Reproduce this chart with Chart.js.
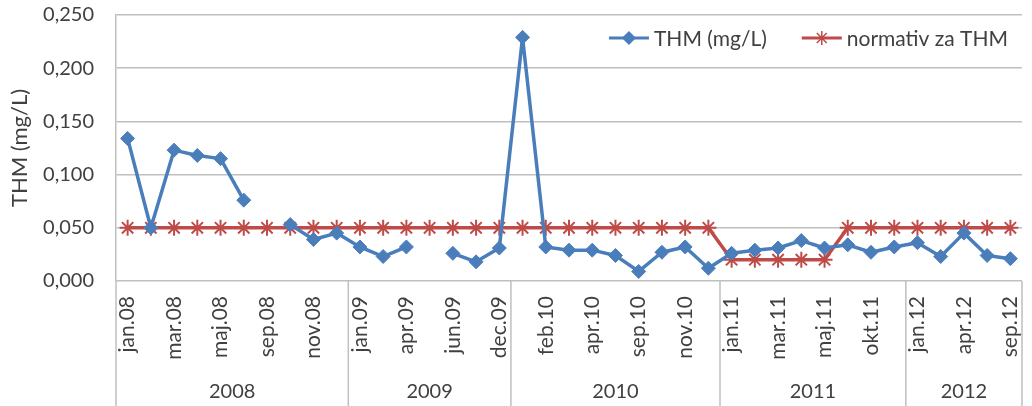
<!DOCTYPE html>
<html>
<head>
<meta charset="utf-8">
<script src="https://cdn.jsdelivr.net/npm/chart.js@4.4.1/dist/chart.umd.min.js"></script>
<style>
html, body { margin: 0; padding: 0; background: #fff; }
</style>
</head>
<body>
<canvas id="graficoThm" width="1032" height="406"></canvas>
<script>
// mjeseci (kategorije), po godinama
const meseci = [
  "jan.08", "feb.08", "mar.08", "apr.08", "maj.08", "jun.08", "sep.08", "okt.08", "nov.08", "dec.08",
  "jan.09", "feb.09", "apr.09", "maj.09", "jun.09", "sep.09", "dec.09",
  "jan.10", "feb.10", "mar.10", "apr.10", "jun.10", "sep.10", "okt.10", "nov.10", "dec.10",
  "jan.11", "feb.11", "mar.11", "apr.11", "maj.11", "jun.11", "okt.11", "nov.11",
  "jan.12", "feb.12", "apr.12", "jun.12", "sep.12"
];
const thm = [
  0.134, 0.050, 0.123, 0.118, 0.115, 0.076, null, 0.053, 0.039, 0.045,
  0.032, 0.023, 0.032, null, 0.026, 0.018, 0.031,
  0.229, 0.032, 0.029, 0.029, 0.024, 0.009, 0.027, 0.032, 0.012,
  0.026, 0.029, 0.031, 0.038, 0.031, 0.034, 0.027, 0.032,
  0.036, 0.023, 0.045, 0.024, 0.021
];
const normativ = [
  0.05, 0.05, 0.05, 0.05, 0.05, 0.05, 0.05, 0.05, 0.05, 0.05,
  0.05, 0.05, 0.05, 0.05, 0.05, 0.05, 0.05,
  0.05, 0.05, 0.05, 0.05, 0.05, 0.05, 0.05, 0.05, 0.05,
  0.02, 0.02, 0.02, 0.02, 0.02, 0.05, 0.05, 0.05,
  0.05, 0.05, 0.05, 0.05, 0.05
];
const nazivi = ["THM (mg/L)", "normativ za THM"];
const naslovY = "THM (mg/L)";

const plava = "#4A7EBB";
const crvena = "#BE4B48";
const siva = "#BFBFBF";
const tekst = "#404040";
const font = "Lato";

const godina = (i) => "20" + meseci[i].slice(-2);

// donji red s godinama + okomite crte
const osGodine = {
  id: "osGodine",
  afterDraw(chart) {
    const ctx = chart.ctx;
    const x = chart.scales.x;
    const a = chart.chartArea;
    const pola = (x.getPixelForValue(1) - x.getPixelForValue(0)) / 2;
    ctx.save();
    ctx.strokeStyle = siva;
    ctx.lineWidth = 1.5;
    ctx.fillStyle = tekst;
    ctx.font = "20px " + font;
    ctx.textAlign = "center";
    ctx.textBaseline = "middle";
    let start = 0;
    for (let i = 1; i <= meseci.length; i++) {
      if (i === meseci.length || godina(i) !== godina(start)) {
        const x0 = x.getPixelForValue(start) - pola;
        const x1 = x.getPixelForValue(i - 1) + pola;
        ctx.beginPath();
        ctx.moveTo(x0, a.bottom);
        ctx.lineTo(x0, chart.height);
        if (i === meseci.length) {
          ctx.moveTo(x1, a.bottom);
          ctx.lineTo(x1, chart.height);
        }
        ctx.stroke();
        ctx.fillText(godina(start), (x0 + x1) / 2, 392);
        start = i;
      }
    }
    ctx.restore();
  }
};

// legenda gore desno, unutar grafa
const legenda = {
  id: "legenda",
  afterDraw(chart) {
    const ctx = chart.ctx;
    const a = chart.chartArea;
    const y = 38;
    ctx.save();
    ctx.font = "21px " + font;
    ctx.textBaseline = "middle";
    ctx.fillStyle = tekst;
    const w1 = ctx.measureText(nazivi[0]).width;
    const w2 = ctx.measureText(nazivi[1]).width;
    const duz = 40;
    let px = a.right - 14 - (duz + 5 + w1 + 35 + duz + 5 + w2);
    const stavke = [
      { boja: plava, stil: "rectRot", r: 6, w: w1, t: nazivi[0] },
      { boja: crvena, stil: "star", r: 7, w: w2, t: nazivi[1] }
    ];
    stavke.forEach((s) => {
      ctx.strokeStyle = s.boja;
      ctx.lineWidth = 3;
      ctx.beginPath();
      ctx.moveTo(px, y);
      ctx.lineTo(px + duz, y);
      ctx.stroke();
      ctx.fillStyle = s.boja;
      ctx.lineWidth = 1.5;
      Chart.helpers.drawPoint(ctx, { pointStyle: s.stil, radius: s.r, rotation: 0, borderWidth: 1.5 }, px + duz / 2, y);
      ctx.fillStyle = tekst;
      ctx.fillText(s.t, px + duz + 5, y + 1);
      px += duz + 5 + s.w + 35;
    });
    ctx.restore();
  }
};

const ctx = document.getElementById("graficoThm").getContext("2d");

const grafico = new Chart(ctx, {
  type: "line",
  data: {
    labels: meseci,
    datasets: [
      {
        label: nazivi[0],
        data: thm,
        borderColor: plava,
        backgroundColor: plava,
        borderWidth: 3.5,
        borderJoinStyle: "round",
        pointStyle: "rectRot",
        pointRadius: 7,
        pointBorderWidth: 1,
        spanGaps: false,
        tension: 0
      },
      {
        label: nazivi[1],
        data: normativ,
        borderColor: crvena,
        backgroundColor: crvena,
        borderWidth: 3.5,
        borderJoinStyle: "round",
        pointStyle: "star",
        pointRadius: 8,
        pointBorderWidth: 2,
        tension: 0
      }
    ]
  },
  options: {
    responsive: false,
    animation: false,
    layout: { padding: { top: 15, right: 8, left: 0, bottom: 0 } },
    scales: {
      x: {
        offset: true,
        grid: { display: false, drawTicks: false },
        border: { display: false },
        ticks: {
          autoSkip: false,
          minRotation: 90,
          maxRotation: 90,
          padding: 15,
          color: tekst,
          font: { family: font, size: 21 },
          callback: (v, i) => (i % 2 === 0 ? meseci[i] : "")
        },
        afterFit: (s) => {
          s.height = 125;
          s.paddingLeft = 0;
          s.paddingRight = 0;
        }
      },
      y: {
        min: 0,
        max: 0.25,
        grid: { color: siva, lineWidth: 1.5, drawTicks: false },
        border: { display: true, color: siva, width: 1.5 },
        ticks: {
          stepSize: 0.05,
          padding: 22,
          color: tekst,
          font: { family: font, size: 20 },
          callback: (v) => v.toFixed(3).replace(".", ",")
        },
        title: {
          display: true,
          text: naslovY,
          color: tekst,
          font: { family: font, size: 22 },
          padding: { top: 7, bottom: 0 }
        },
        afterFit: (s) => {
          s.width = 116;
          s.paddingTop = 0;
          s.paddingBottom = 0;
        }
      }
    },
    plugins: {
      legend: { display: false },
      tooltip: { enabled: false }
    }
  },
  plugins: [osGodine, legenda]
});
</script>
</body>
</html>
